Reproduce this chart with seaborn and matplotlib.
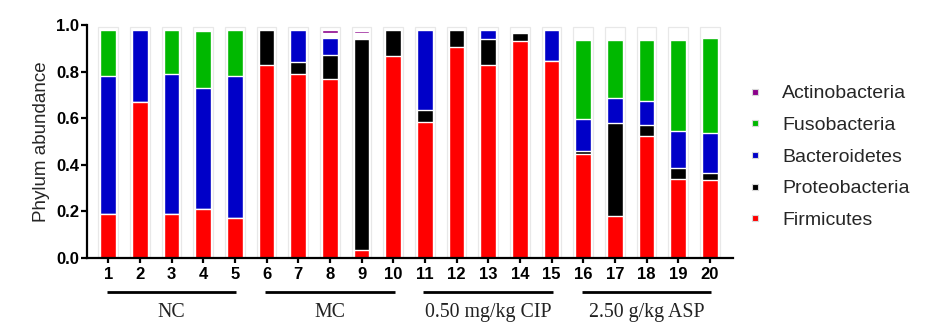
import numpy as np
import pandas as pd
import matplotlib
matplotlib.use("Agg")
import matplotlib.pyplot as plt
import matplotlib.transforms as mtransforms
from matplotlib.lines import Line2D
import seaborn as sns

samples = [str(i) for i in range(1, 21)]
firmicutes     = [0.19, 0.67, 0.19, 0.21, 0.17, 0.83, 0.79, 0.77, 0.035, 0.865,
                  0.585, 0.905, 0.83, 0.93, 0.845, 0.445, 0.18, 0.525, 0.34, 0.335]
proteobacteria = [0.0, 0.0, 0.0, 0.0, 0.0, 0.15, 0.05, 0.10, 0.905, 0.115,
                  0.05, 0.075, 0.11, 0.035, 0.0, 0.015, 0.40, 0.045, 0.045, 0.03]
bacteroidetes  = [0.59, 0.31, 0.60, 0.52, 0.61, 0.0, 0.14, 0.075, 0.0, 0.0,
                  0.345, 0.0, 0.04, 0.0, 0.135, 0.135, 0.105, 0.105, 0.16, 0.17]
fusobacteria   = [0.20, 0.0, 0.19, 0.245, 0.20, 0.0, 0.0, 0.0, 0.0, 0.0,
                  0.0, 0.0, 0.0, 0.0, 0.0, 0.34, 0.25, 0.26, 0.39, 0.41]
unassigned     = [0.0, 0.0, 0.0, 0.0, 0.0, 0.0, 0.0, 0.02, 0.024, 0.0,
                  0.0, 0.0, 0.0, 0.0, 0.0, 0.0, 0.0, 0.0, 0.0, 0.0]
actinobacteria = [0.0, 0.0, 0.0, 0.0, 0.0, 0.0, 0.0, 0.012, 0.012, 0.0,
                  0.0, 0.0, 0.0, 0.0, 0.0, 0.0, 0.0, 0.0, 0.0, 0.0]
groups = ["NC", "MC", "0.50 mg/kg CIP", "2.50 g/kg ASP"]
group_members = [(0, 4), (5, 9), (10, 14), (15, 19)]
yticks = [0.0, 0.2, 0.4, 0.6, 0.8, 1.0]

colors = {"Actinobacteria": "#8b008b", "Fusobacteria": "#00b800",
          "Bacteroidetes": "#0000c8", "Proteobacteria": "#000000",
          "Firmicutes": "#ff0000"}

# stacking order (bottom -> top)
stack = [("Firmicutes", firmicutes), ("Proteobacteria", proteobacteria),
         ("Bacteroidetes", bacteroidetes), ("Fusobacteria", fusobacteria),
         ("unassigned", unassigned), ("Actinobacteria", actinobacteria)]

df = pd.DataFrame({"sample": samples})
cum = np.zeros(len(samples))
for name, vals in stack:
    cum = cum + np.array(vals)
    df[name] = cum.copy()
df["frame"] = 0.99

sns.set_style("ticks")
plt.rcParams["font.family"] = ["Liberation Sans", "DejaVu Sans"]

fig = plt.figure(figsize=(9.31, 3.31), dpi=100)
ax = fig.add_axes([0.0931, 0.2205, 0.6942, 0.704])

sns.barplot(data=df, x="sample", y="frame", order=samples, color="#e8e8e8",
            fill=False, width=0.62, linewidth=0.9, errorbar=None, ax=ax)

for name, _ in reversed(stack):
    c = "white" if name == "unassigned" else colors[name]
    sns.barplot(data=df, x="sample", y=name, order=samples, color=c,
                saturation=1, width=0.5, edgecolor="white", linewidth=1.0,
                errorbar=None, ax=ax)

ax.set_xlim(-0.68, 19.73)
ax.set_ylim(0, 1.0)
ax.set_yticks(yticks)
ax.set_yticklabels([f"{v:.1f}" for v in yticks], fontweight="bold", fontsize=12)
ax.set_xticks(range(len(samples)))
ax.set_xticklabels(samples, fontweight="bold", fontsize=12)
ax.set_xlabel("")
ax.set_ylabel("Phylum abundance", fontsize=13.5, labelpad=4)
for s in ["top", "right"]:
    ax.spines[s].set_visible(False)
for s in ["left", "bottom"]:
    ax.spines[s].set_linewidth(1.6)
    ax.spines[s].set_color("black")
ax.tick_params(axis="y", length=4.5, width=1.6, pad=1, colors="black")
ax.tick_params(axis="x", length=3.5, width=1.6, pad=3, colors="black")

trans = mtransforms.blended_transform_factory(ax.transData, ax.transAxes)
for label, (a, b) in zip(groups, group_members):
    ax.plot([a - 0.05, b + 0.05], [-0.146, -0.146], color="black", lw=2.0,
            transform=trans, clip_on=False, solid_capstyle="butt")
    ax.text((a + b) / 2, -0.232, label, transform=trans, ha="center",
            va="center", fontsize=14.3, family=["Liberation Serif"],
            color="#222222")

legend_order = ["Actinobacteria", "Fusobacteria", "Bacteroidetes",
                "Proteobacteria", "Firmicutes"]
handles = [Line2D([], [], marker="s", linestyle="none", markersize=4.5,
                  markerfacecolor=colors[n], markeredgecolor="#d8d8d8",
                  markeredgewidth=0.8) for n in legend_order]
fig.legend(handles, legend_order, loc="center left",
           bbox_to_anchor=(0.795, 0.526), frameon=False, fontsize=14,
           handlelength=0.75, handletextpad=1.0, labelspacing=0.72,
           borderpad=0.4, borderaxespad=0)

fig.savefig("out.png", dpi=100)
